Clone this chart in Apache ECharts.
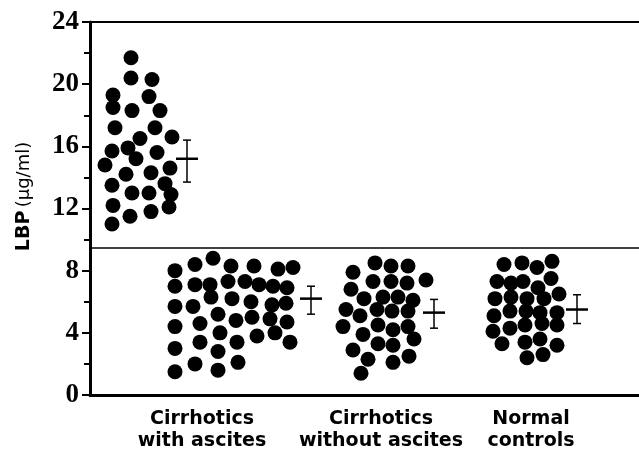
<!DOCTYPE html>
<html>
<head>
<meta charset="utf-8">
<title>LBP</title>
<script src="https://cdn.jsdelivr.net/npm/echarts/dist/echarts.min.js"></script>
<style>
  html, body { margin: 0; padding: 0; background: #fff; }
  #main { width: 639px; height: 461px; }
</style>
</head>
<body>
<div id="main"></div>
<script>
// x values are spread positions along the horizontal axis (axis units), y values are LBP in ug/ml

// first group (top cluster, no label)
const groupAx = [41, 41, 62, 23, 59, 23, 42, 70, 25, 65, 50, 82, 22, 38, 67, 46, 15, 36, 61, 80, 22, 75, 42, 59, 81, 23, 79, 40, 61, 22];
const groupAy = [21.7, 20.4, 20.3, 19.3, 19.2, 18.5, 18.3, 18.3, 17.2, 17.2, 16.5, 16.6, 15.7, 15.9, 15.6, 15.2, 14.8, 14.2, 14.3, 14.6, 13.5, 13.6, 13.0, 13.0, 12.9, 12.2, 12.1, 11.5, 11.8, 11.0];

// cirrhotics with ascites
const groupBx = [85, 105, 123, 141, 164, 188, 203, 85, 105, 120, 138, 155, 169, 183, 197, 85, 103, 121, 142, 161, 182, 196, 85, 110, 128, 146, 162, 180, 197, 130, 167, 185, 200, 85, 110, 147, 128, 85, 105, 128, 148];
const groupBy = [8.0, 8.4, 8.8, 8.3, 8.3, 8.1, 8.2, 7.0, 7.1, 7.1, 7.3, 7.3, 7.1, 7.0, 6.9, 5.7, 5.7, 6.3, 6.2, 6.0, 5.8, 5.9, 4.4, 4.6, 5.2, 4.8, 5.0, 4.9, 4.7, 4.0, 3.8, 4.0, 3.4, 3.0, 3.4, 3.4, 2.8, 1.5, 2.0, 1.6, 2.1];

// cirrhotics without ascites
const groupCx = [285, 301, 318, 263, 283, 301, 317, 336, 261, 274, 293, 308, 323, 256, 270, 287, 302, 318, 253, 273, 288, 303, 318, 324, 288, 303, 263, 278, 303, 319, 271];
const groupCy = [8.5, 8.3, 8.3, 7.9, 7.3, 7.3, 7.2, 7.4, 6.8, 6.2, 6.3, 6.3, 6.1, 5.5, 5.1, 5.5, 5.4, 5.4, 4.4, 3.9, 4.5, 4.2, 4.4, 3.6, 3.3, 3.2, 2.9, 2.3, 2.1, 2.5, 1.4];

// normal controls
const groupDx = [414, 432, 447, 462, 407, 421, 433, 461, 448, 405, 421, 437, 454, 469, 404, 420, 436, 450, 467, 403, 420, 435, 452, 467, 412, 435, 450, 467, 437, 453];
const groupDy = [8.4, 8.5, 8.2, 8.6, 7.3, 7.2, 7.3, 7.5, 6.9, 6.2, 6.3, 6.2, 6.2, 6.5, 5.1, 5.4, 5.4, 5.3, 5.3, 4.1, 4.3, 4.5, 4.6, 4.5, 3.3, 3.4, 3.6, 3.2, 2.4, 2.6];

// mean +/- SD markers
const meanX = [97, 221, 344, 487];
const meanVals = [15.2, 6.2, 5.3, 5.5];
const sdHigh = [16.4, 7.0, 6.15, 6.45];
const sdLow = [13.7, 5.2, 4.3, 4.6];

// category labels under the axis
const labelTicks = [112, 291, 441];
const labelNames = ['Cirrhotics\nwith ascites', 'Cirrhotics\nwithout ascites', 'Normal\ncontrols'];

const yTicks = { min: 0, max: 24, interval: 4 };
const cutoff = 9.5;

function pairs(xs, ys) {
  return xs.map((x, i) => [x, ys[i]]);
}

const chart = echarts.init(document.getElementById('main'));

const dotSeries = [
  pairs(groupAx, groupAy),
  pairs(groupBx, groupBy),
  pairs(groupCx, groupCy),
  pairs(groupDx, groupDy),
].map((d) => ({
  type: 'scatter',
  data: d,
  symbol: 'circle',
  symbolSize: 15,
  itemStyle: { color: '#000', opacity: 1 },
  silent: true,
}));

// divider line
dotSeries[0].markLine = {
  silent: true,
  symbol: 'none',
  label: { show: false },
  lineStyle: { color: '#000', width: 1.5, type: 'solid' },
  data: [{ yAxis: cutoff }],
};

const option = {
  animation: false,
  backgroundColor: '#fff',
  grid: { left: 90, right: 0, top: 22, bottom: 66 },
  xAxis: [
    {
      type: 'value',
      min: 0,
      max: 549,
      position: 'bottom',
      axisLine: { lineStyle: { color: '#000', width: 3 } },
      axisTick: { show: false },
      splitLine: { show: false },
      axisLabel: {
        customValues: labelTicks,
        formatter: (v) => labelNames[labelTicks.indexOf(v)] || '',
        color: '#000',
        fontFamily: 'DejaVu Sans',
        fontWeight: 'bold',
        fontSize: 19,
        lineHeight: 22,
        margin: 13,
      },
    },
    {
      type: 'value',
      min: 0,
      max: 549,
      position: 'top',
      axisLine: { lineStyle: { color: '#000', width: 2 } },
      axisTick: { show: false },
      axisLabel: { show: false },
      splitLine: { show: false },
    },
  ],
  yAxis: {
    type: 'value',
    min: yTicks.min,
    max: yTicks.max,
    interval: yTicks.interval,
    axisLine: { show: true, lineStyle: { color: '#000', width: 3 } },
    axisTick: { show: true, inside: false, length: 8, lineStyle: { color: '#000', width: 2 } },
    minorTick: { show: true, splitNumber: 2, length: 6, lineStyle: { color: '#000', width: 2 } },
    splitLine: { show: false },
    axisLabel: {
      color: '#000',
      fontFamily: 'Liberation Serif',
      fontWeight: 'bold',
      fontSize: 27,
      margin: 11,
    },
    name: '{b|LBP} {n|(\u03bcg/ml)}',
    nameLocation: 'middle',
    nameRotate: 90,
    nameGap: 56,
    nameTextStyle: {
      padding: [0, 0, 0, 24],
      rich: {
        b: { fontFamily: 'DejaVu Sans', fontWeight: 'bold', fontSize: 19, color: '#000' },
        n: { fontFamily: 'DejaVu Sans', fontWeight: 'normal', fontSize: 18, color: '#000' },
      },
    },
  },
  series: dotSeries.concat([
    {
      type: 'custom',
      silent: true,
      data: meanX.map((x, i) => [x, meanVals[i], sdHigh[i], sdLow[i]]),
      renderItem: function (params, api) {
        const m = api.coord([api.value(0), api.value(1)]);
        const hi = api.coord([api.value(0), api.value(2)]);
        const lo = api.coord([api.value(0), api.value(3)]);
        const thin = { stroke: '#000', lineWidth: 1.5 };
        return {
          type: 'group',
          children: [
            { type: 'line', shape: { x1: m[0], y1: hi[1], x2: m[0], y2: lo[1] }, style: thin },
            { type: 'line', shape: { x1: m[0] - 4, y1: hi[1], x2: m[0] + 4, y2: hi[1] }, style: thin },
            { type: 'line', shape: { x1: m[0] - 4, y1: lo[1], x2: m[0] + 4, y2: lo[1] }, style: thin },
            { type: 'line', shape: { x1: m[0] - 11, y1: m[1], x2: m[0] + 11, y2: m[1] }, style: { stroke: '#000', lineWidth: 2.5 } },
          ],
        };
      },
    },
  ]),
};

chart.setOption(option);
</script>
</body>
</html>
